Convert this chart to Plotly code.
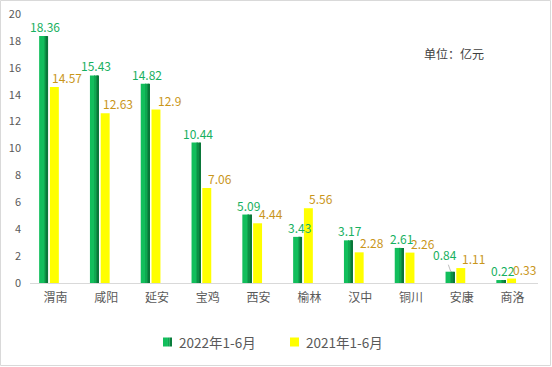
import plotly.graph_objects as go

categories = ["渭南", "咸阳", "延安", "宝鸡", "西安", "榆林", "汉中", "铜川", "安康", "商洛"]
values_2022 = [18.36, 15.43, 14.82, 10.44, 5.09, 3.43, 3.17, 2.61, 0.84, 0.22]
values_2021 = [14.57, 12.63, 12.9, 7.06, 4.44, 5.56, 2.28, 2.26, 1.11, 0.33]
labels_2022 = ["18.36", "15.43", "14.82", "10.44", "5.09", "3.43", "3.17", "2.61", "0.84", "0.22"]
labels_2021 = ["14.57", "12.63", "12.9", "7.06", "4.44", "5.56", "2.28", "2.26", "1.11", "0.33"]
series_names = ["2022年1-6月", "2021年1-6月"]
y_ticks = [0, 2, 4, 6, 8, 10, 12, 14, 16, 18, 20]
unit_text = "单位：亿元"

FONT = "Noto Sans CJK SC, DejaVu Sans, sans-serif"
W, H = 552, 367
ML, MR, MT, MB = 30, 14, 14, 84
PW, PH = W - ML - MR, H - MT - MB
GREEN_TXT = "#17B060"
GOLD_TXT = "#C9961A"


def px_x(px):
    return (px - ML) / PW


def px_y(py):
    return 1 - (py - MT) / PH


fig = go.Figure()

# green bar with simulated horizontal gradient (slices light -> dark)
g_off = -0.32
g_w = 0.176
slices = [(0.0, 0.55, "#12BE5C"), (0.55, 0.72, "#0FA850"), (0.72, 0.86, "#0C9045"), (0.86, 1.0, "#0A7739")]
for i, (a, b, col) in enumerate(slices):
    fig.add_trace(go.Bar(
        x=categories, y=values_2022,
        offset=g_off + a * g_w, width=(b - a) * g_w + (0.004 if b < 1 else 0),
        marker=dict(color=col, line=dict(width=0)),
        name=series_names[0], showlegend=False, hoverinfo="skip",
    ))

fig.add_trace(go.Bar(
    x=categories, y=values_2021, name=series_names[1],
    offset=-0.108, width=0.176,
    marker=dict(color="#FFFF00", line=dict(width=0)),
    showlegend=False,
))

annotations = []
for i, c in enumerate(categories):
    if labels_2022[i] == "0.84":
        annotations.append(dict(x=c, y=values_2022[i], text=labels_2022[i], xref="x", yref="y",
                                showarrow=True, arrowhead=0, arrowwidth=1, arrowcolor="#BFBFBF",
                                ax=-6, ay=-17, xshift=-11, yshift=0,
                                font=dict(family=FONT, size=12, color=GREEN_TXT)))
    else:
        annotations.append(dict(x=c, y=values_2022[i], text=labels_2022[i], xref="x", yref="y",
                                showarrow=False, xshift=-10, yshift=-1, yanchor="bottom",
                                font=dict(family=FONT, size=12, color=GREEN_TXT)))
    annotations.append(dict(x=c, y=values_2021[i], text=labels_2021[i], xref="x", yref="y",
                            showarrow=False, xshift=12, yshift=-1, yanchor="bottom",
                            font=dict(family=FONT, size=12, color=GOLD_TXT)))

annotations.append(dict(x=px_x(454), y=px_y(53),
                        xref="paper", yref="paper", text=unit_text, showarrow=False,
                        xanchor="center", yanchor="middle",
                        font=dict(family=FONT, size=12, color="#404040")))

# custom legend
legend_y = 342
legend_items = [(163, series_names[0]), (290, series_names[1])]
shapes = [dict(type="rect", xref="paper", yref="paper",
               x0=-(ML - 0.5) / PW, x1=1 + (MR - 1.5) / PW,
               y0=-(MB - 1.5) / PH, y1=1 + (MT - 0.5) / PH,
               line=dict(color="#D9D9D9", width=1), layer="below")]
for k, (lx, name) in enumerate(legend_items):
    if k == 0:
        parts = [(0, 0.55, "#12BE5C"), (0.55, 0.75, "#0FA850"), (0.75, 1.0, "#0A7E3C")]
    else:
        parts = [(0, 1.0, "#FFFF00")]
    for a, b, col in parts:
        shapes.append(dict(type="rect", xref="paper", yref="paper",
                           x0=px_x(lx + 9 * a), x1=px_x(lx + 9 * b),
                           y0=px_y(legend_y + 4.5), y1=px_y(legend_y - 4.5),
                           fillcolor=col, line=dict(width=0)))
    annotations.append(dict(x=px_x(lx + 14), y=px_y(legend_y), xref="paper", yref="paper",
                            text=name, showarrow=False, xanchor="left", yanchor="middle",
                            font=dict(family=FONT, size=13.5, color="#595959")))

fig.update_layout(
    width=W, height=H,
    margin=dict(l=ML, r=MR, t=MT, b=MB, autoexpand=False),
    paper_bgcolor="white", plot_bgcolor="white",
    barmode="overlay", showlegend=False,
    font=dict(family=FONT, size=11, color="#595959"),
    annotations=annotations,
    xaxis=dict(showline=True, linecolor="#D9D9D9", linewidth=1, showgrid=False,
               ticks="", ticklabelstandoff=4,
               tickfont=dict(family=FONT, size=12, color="#595959"),
               range=[-0.5, len(categories) - 0.5], automargin=False),
    yaxis=dict(range=[0, 20], tickvals=y_ticks, showgrid=False, showline=False,
               zeroline=False, ticks="", ticklabelstandoff=8, automargin=False,
               tickfont=dict(family=FONT, size=11, color="#595959")),
    shapes=shapes,
)

fig.write_html("out.html", config={"displayModeBar": False},
               post_script="document.body.style.margin='0';document.body.style.padding='0';")
